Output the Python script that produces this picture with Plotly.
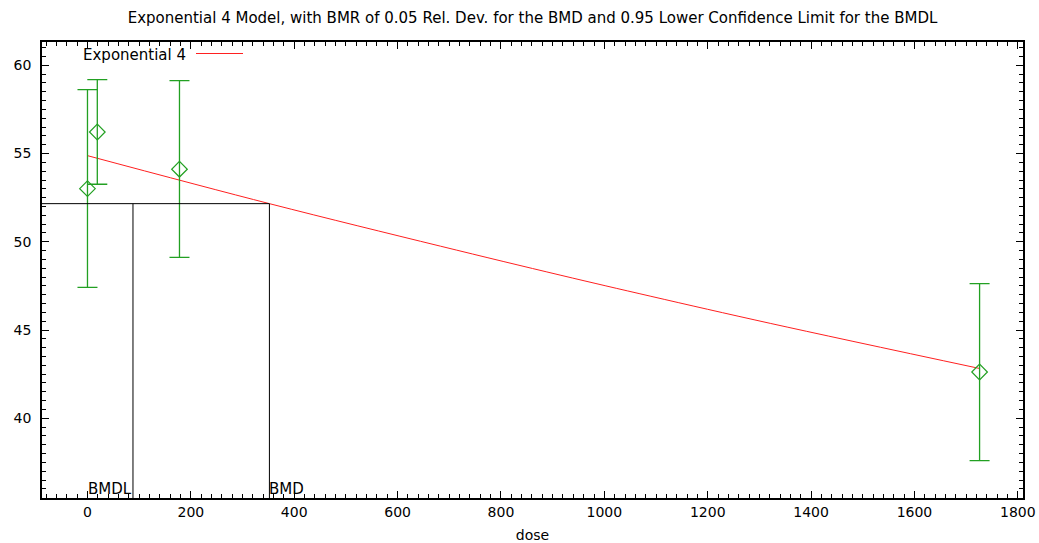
import plotly.graph_objects as go

# Observed data
dose = [0, 19, 178, 1726]
mean = [53.01, 56.22, 54.11, 42.62]
err_hi = [58.62, 59.19, 59.13, 47.63]
err_lo = [47.42, 53.26, 49.12, 37.60]

# Fitted Exponential 4 model curve
curve_dose = [0, 352, 683, 916, 1090, 1322, 1726]
curve_resp = [54.88, 52.16, 49.75, 48.10, 46.91, 45.37, 42.82]

bmd = 352
bmdl = 88
bmr_resp = 52.16

x_range = [-88, 1810]
y_range = [35.48, 61.32]

green = "#22a022"
red = "#ff2020"
font = "DejaVu Sans"
fs = 14

W, H = 1039, 543
ml, mr, mt, mb = 42, 16, 42, 45
pw, ph = W - ml - mr, H - mt - mb


def px(xp):
    # window pixels -> paper fraction
    return (xp - ml) / pw


def py(yp):
    return (H - mb - yp) / ph


fig = go.Figure()

fig.add_trace(go.Scatter(
    x=curve_dose, y=curve_resp, mode="lines", line=dict(color=red, width=1, shape="spline"),
    showlegend=False, hoverinfo="skip"))

fig.add_trace(go.Scatter(
    x=dose, y=mean, mode="markers",
    marker=dict(symbol="diamond-open", size=12, color=green, line=dict(width=1.2, color=green)),
    error_y=dict(type="data", symmetric=False,
                 array=[h - m for h, m in zip(err_hi, mean)],
                 arrayminus=[m - l for l, m in zip(err_lo, mean)],
                 color=green, thickness=1.3, width=10),
    showlegend=False))

# BMD / BMDL lines
fig.add_trace(go.Scatter(x=[x_range[0], bmd], y=[bmr_resp, bmr_resp], mode="lines",
                         line=dict(color="black", width=1), showlegend=False, hoverinfo="skip"))
fig.add_trace(go.Scatter(x=[bmdl, bmdl], y=[y_range[0], bmr_resp], mode="lines",
                         line=dict(color="black", width=1), showlegend=False, hoverinfo="skip"))
fig.add_trace(go.Scatter(x=[bmd, bmd], y=[y_range[0], bmr_resp], mode="lines",
                         line=dict(color="black", width=1), showlegend=False, hoverinfo="skip"))

fig.add_annotation(x=bmdl, y=y_range[0], xref="x", yref="y", text="BMDL", showarrow=False,
                   xanchor="right", yanchor="bottom", font=dict(family=font, size=fs + 1, color="black"),
                   xshift=1, yshift=-2)
fig.add_annotation(x=bmd, y=y_range[0], xref="x", yref="y", text="BMD", showarrow=False,
                   xanchor="left", yanchor="bottom", font=dict(family=font, size=fs + 1, color="black"),
                   xshift=-2, yshift=-2)

# Legend (gnuplot style: text then sample) drawn on a hidden overlay axis in paper units
fig.add_annotation(x=px(81), y=py(55), xref="paper", yref="paper",
                   text="Exponential 4", showarrow=False, xanchor="left", yanchor="middle",
                   font=dict(family=font, size=15, color="black"))
fig.add_trace(go.Scatter(x=[px(196), px(243)], y=[py(53.5), py(53.5)], xaxis="x2", yaxis="y2",
                         mode="lines", line=dict(color=red, width=1.2), showlegend=False,
                         hoverinfo="skip", cliponaxis=False))

axis_common = dict(
    showgrid=False, zeroline=False, showline=True, linecolor="black", linewidth=1.5,
    mirror="allticks", ticks="inside", ticklen=7, tickwidth=1, tickcolor="black",
    tickfont=dict(family=font, size=fs, color="black"), automargin=False,
)

fig.update_xaxes(range=x_range, dtick=200, tick0=0,
                 minor=dict(ticks="inside", ticklen=4, dtick=20, tickcolor="black", tickwidth=1),
                 title=dict(text="dose", font=dict(family=font, size=fs, color="black"), standoff=14),
                 **axis_common)
fig.update_yaxes(range=y_range, dtick=5, tick0=0, ticklabelstandoff=6,
                 minor=dict(ticks="inside", ticklen=4, dtick=0.5, tickcolor="black", tickwidth=1),
                 **axis_common)

fig.update_layout(
    width=W, height=H,
    margin=dict(l=ml, r=mr, t=mt, b=mb, autoexpand=False),
    paper_bgcolor="white", plot_bgcolor="white",
    xaxis2=dict(overlaying="x", range=[0, 1], visible=False),
    yaxis2=dict(overlaying="y", range=[0, 1], visible=False),
    title=dict(text="Exponential 4 Model, with BMR of 0.05 Rel. Dev. for the BMD and 0.95 Lower Confidence Limit for the BMDL",
               x=0.5, xref="paper", y=1 - 18 / H, yanchor="middle", automargin=False,
               font=dict(family=font, size=15, color="black")),
    font=dict(family=font),
)

fig.write_html("out.html",
               config={"displayModeBar": False},
               post_script="document.body.style.margin='0';document.body.style.overflow='hidden';")
